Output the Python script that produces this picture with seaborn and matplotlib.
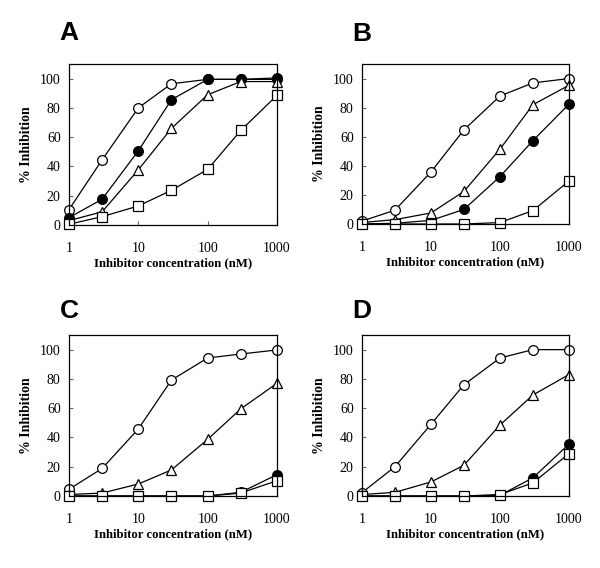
import matplotlib
matplotlib.use("Agg")
import matplotlib.pyplot as plt
import seaborn as sns
import pandas as pd

sns.set_theme(style="white")
plt.rcParams['font.family'] = ['Liberation Serif', 'DejaVu Serif']
plt.rcParams['text.color'] = 'black'
plt.rcParams['axes.labelcolor'] = 'black'
plt.rcParams['xtick.color'] = 'black'
plt.rcParams['ytick.color'] = 'black'

conc = [1, 3, 10, 30, 100, 300, 1000]
panel_labels = ["A", "B", "C", "D"]
series_names = ["open_circle", "filled_circle", "triangle", "square"]

A_open_circle = [10.5, 44.5, 80, 96.5, 99.5, 99.5, 99.5]
A_filled_circle = [5, 17.6, 50.7, 85.6, 99.5, 99.5, 100.5]
A_triangle = [3, 9, 37.7, 66, 89, 98, 98]
A_square = [0.5, 5.7, 13, 23.7, 38, 64.6, 88.6]

B_open_circle = [2, 9.5, 35.8, 64.7, 88, 97, 100]
B_filled_circle = [0, 0.5, 2.5, 10, 32.6, 57.3, 82.4]
B_triangle = [1, 3, 7.6, 22.4, 51.5, 82, 95.4]
B_square = [0, 0, 0, 0, 1, 9.2, 29.6]

C_open_circle = [4.6, 18.8, 45.8, 79.2, 94.3, 97, 99.8]
C_filled_circle = [0, 0, 0, 0, 0, 2.5, 14.6]
C_triangle = [1, 2, 8.2, 17.8, 38.7, 59.5, 77]
C_square = [0, 0, 0, 0, 0, 2, 10.5]

D_open_circle = [2.3, 20, 49, 76, 94.3, 100, 100]
D_filled_circle = [0, 0, 0, 0, 0.5, 12.4, 35.5]
D_triangle = [1, 2.5, 9.6, 21, 48.5, 69, 83]
D_square = [0, 0, 0, 0, 1, 9, 29]

data = {
    "A": [A_open_circle, A_filled_circle, A_triangle, A_square],
    "B": [B_open_circle, B_filled_circle, B_triangle, B_square],
    "C": [C_open_circle, C_filled_circle, C_triangle, C_square],
    "D": [D_open_circle, D_filled_circle, D_triangle, D_square],
}

styles = {
    "open_circle": dict(marker="o", mfc="white"),
    "filled_circle": dict(marker="o", mfc="black"),
    "triangle": dict(marker="^", mfc="white"),
    "square": dict(marker="s", mfc="white"),
}

fig = plt.figure(figsize=(6, 5.68), dpi=100)
W, H = 600, 568
boxes = {
    "A": (69, 64, 277, 225),
    "B": (362, 64, 569, 224),
    "C": (69, 335, 277, 496),
    "D": (362, 335, 569, 496),
}

for lab in panel_labels:
    x0, y0, x1, y1 = boxes[lab]
    ax = fig.add_axes([x0 / W, 1 - y1 / H, (x1 - x0) / W, (y1 - y0) / H])
    for name, vals in zip(series_names, data[lab]):
        df = pd.DataFrame({"conc": conc, "inh": vals})
        st = styles[name]
        sns.lineplot(data=df, x="conc", y="inh", ax=ax, color="black", lw=0.9,
                     marker=st["marker"], markerfacecolor=st["mfc"],
                     markeredgecolor="black", markeredgewidth=0.9,
                     markersize=7 if st["marker"] != "s" else 6.5, clip_on=False)
    ax.set_xscale("log")
    ax.set_xlim(1, 1000)
    ax.set_ylim(0, 110)
    ax.set_xticks([1, 10, 100, 1000])
    ax.set_xticklabels(["1", "10", "100", "1000"])
    ax.minorticks_off()
    ax.set_yticks([0, 20, 40, 60, 80, 100])
    ax.tick_params(axis="both", direction="in", length=3, width=0.8, labelsize=10,
                   left=True, bottom=True, color="#666666", labelcolor="black")
    ax.tick_params(axis="x", pad=12)
    ax.tick_params(axis="y", pad=6)
    for s in ax.spines.values():
        s.set_color("black")
        s.set_linewidth(0.9)
    ax.set_xlabel("Inhibitor concentration (nM)", fontsize=9.2, fontweight="bold",
                  labelpad=2, color="black")
    ax.set_ylabel("% Inhibition", fontsize=10, fontweight="bold", labelpad=5,
                  color="black")
    ax.text(0.0, 1.19 if lab in "AB" else 1.15, lab, transform=ax.transAxes,
            fontsize=19, fontweight="bold", family="Liberation Sans",
            ha="center", va="center", color="black")

fig.savefig("out.png", dpi=100)
